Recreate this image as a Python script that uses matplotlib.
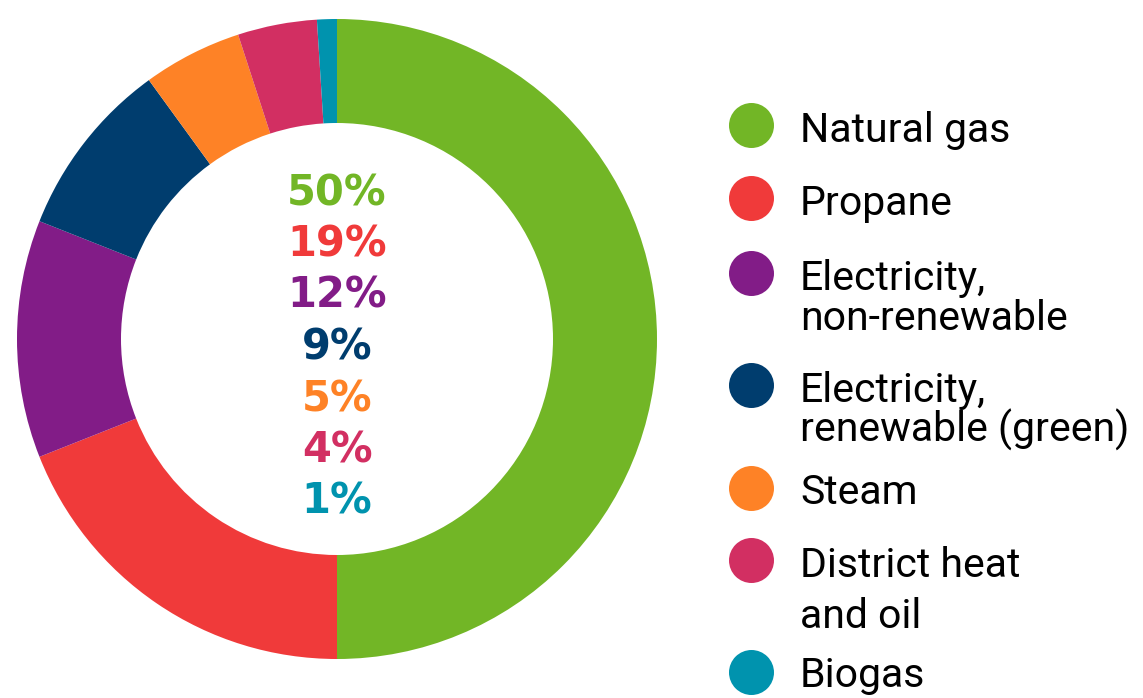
import matplotlib
matplotlib.use("Agg")
import matplotlib.pyplot as plt

# Energy sources share
sources = ["Natural gas", "Propane", "Electricity,\nnon-renewable",
           "Electricity,\nrenewable (green)", "Steam", "District heat\nand oil", "Biogas"]
shares = [50, 19, 12, 9, 5, 4, 1]
colors = ["#72B626", "#F03A3A", "#821C87", "#003D6E", "#FE8226", "#D22F62", "#0093AE"]

W, H = 1143, 698
fig = plt.figure(figsize=(W / 100, H / 100), dpi=100)

# donut: centre (337, 339) px, outer radius 320 px
cx, cy, r = 337, 339, 320
ax = fig.add_axes([(cx - r) / W, (H - cy - r) / H, 2 * r / W, 2 * r / H])
ax.pie(shares, colors=colors, startangle=90, counterclock=False, radius=1,
       wedgeprops=dict(width=0.325, linewidth=0))
ax.set_xlim(-1, 1)
ax.set_ylim(-1, 1)
ax.set_aspect("auto")
ax.axis("off")

# overlay axes in pixel units for the text and legend
ov = fig.add_axes([0, 0, 1, 1])
ov.set_xlim(0, W)
ov.set_ylim(H, 0)
ov.axis("off")

# percentages stacked in the hole
for i, (v, c) in enumerate(zip(shares, colors)):
    ov.text(cx, 193 + i * 51.5, f"{v}%", color=c, fontsize=30, fontweight="bold",
            family="DejaVu Sans", ha="center", va="center")

# legend with dots, each line placed on its own baseline
dot_y = [125, 198, 273, 385, 488, 560, 672]
line_y = [[142], [215], [290, 330], [402, 442], [504], [577, 628], [687]]
for name, c, dy, ly in zip(sources, colors, dot_y, line_y):
    ov.scatter([751], [dy], s=(22.5 * 2 * 72 / 100) ** 2, color=c, linewidths=0)
    for text, y in zip(name.split("\n"), ly):
        ov.text(800, y, text, fontsize=29.5, family="Roboto", color="black",
                ha="left", va="baseline")

fig.savefig("out.png", dpi=100)
